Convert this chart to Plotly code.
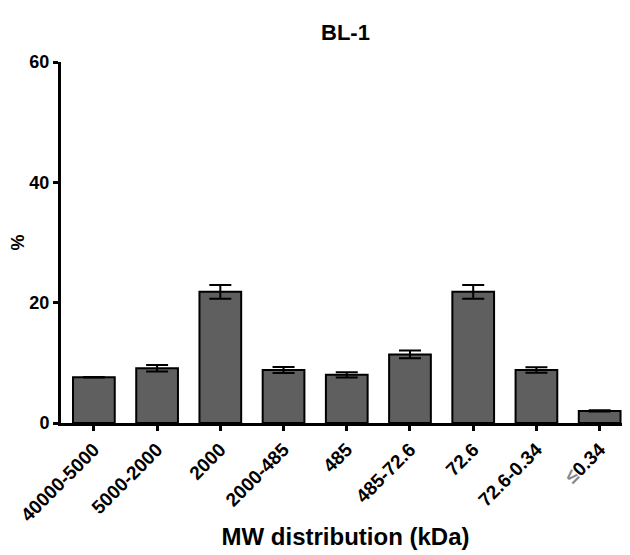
import plotly.graph_objects as go

categories = ["40000-5000", "5000-2000", "2000", "2000-485", "485",
              "485-72.6", "72.6", "72.6-0.34",
              "<span style='color:#888888'>≤</span>0.34"]
values = [7.6, 9.1, 21.8, 8.8, 8.0, 11.4, 21.8, 8.8, 2.0]
errors = [0.05, 0.55, 1.15, 0.5, 0.45, 0.65, 1.15, 0.45, 0.1]

fig = go.Figure()
fig.add_trace(go.Bar(
    x=list(range(len(categories))),
    y=values,
    marker=dict(color='#5f5f5f', line=dict(color='black', width=2)),
    error_y=dict(type='data', array=errors, visible=True,
                 color='black', thickness=2, width=11),
    width=0.66,
))

# page body adds an 8px offset, so the figure is 8px smaller than the window
fig.update_layout(
    width=622, height=547,
    margin=dict(l=53, r=0, t=54, b=132),
    plot_bgcolor='white', paper_bgcolor='white',
    font=dict(family='Liberation Sans, Arial', color='black'),
    showlegend=False,
    title=dict(text='BL-1', xref='paper', x=0.5, xanchor='center',
               yref='container', y=0.956, yanchor='middle',
               font=dict(size=22, weight='bold')),
    xaxis=dict(
        tickmode='array', tickvals=list(range(len(categories))),
        ticktext=categories,
        tickangle=-45, tickfont=dict(size=19, weight='bold'),
        range=[-0.52, 8.48], automargin=False,
        showline=True, linecolor='black', linewidth=3,
        ticks='outside', ticklen=5, tickwidth=3, tickcolor='black',
        showgrid=False, zeroline=False,
        title=dict(text='MW distribution (kDa)', font=dict(size=24, weight='bold'), standoff=4),
    ),
    yaxis=dict(
        range=[0, 60], tickvals=[0, 20, 40, 60], automargin=False,
        tickfont=dict(size=18, weight='bold'),
        showline=True, linecolor='black', linewidth=3,
        ticks='outside', ticklen=5, tickwidth=3, tickcolor='black',
        showgrid=False, zeroline=False,
        title=dict(text='%', font=dict(size=18, weight='bold'), standoff=12),
    ),
)

fig.write_html("out.html")
